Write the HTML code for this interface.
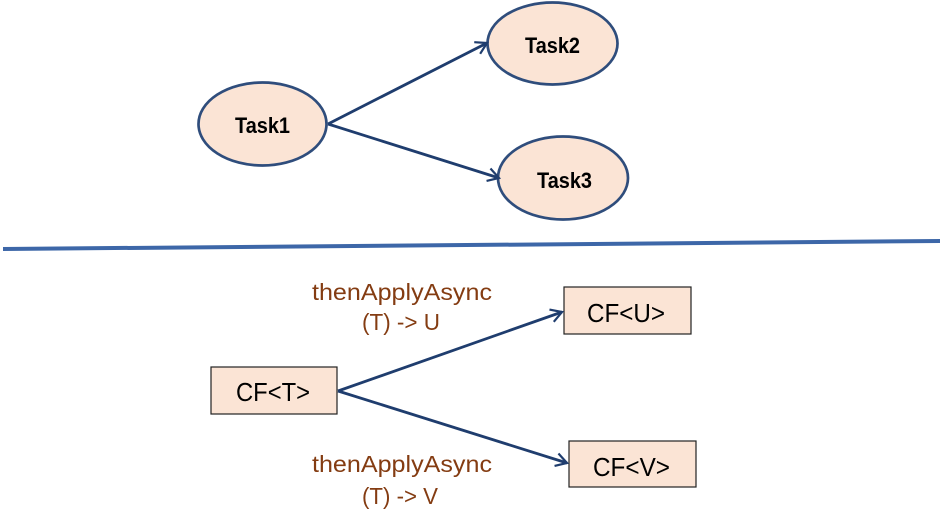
<!DOCTYPE html>
<html>
<head>
<meta charset="utf-8">
<style>
  html, body { margin: 0; padding: 0; background: #ffffff; }
  body { width: 940px; height: 518px; overflow: hidden; }
  svg { display: block; }
</style>
</head>
<body>
<svg width="940" height="518" viewBox="0 0 940 518" xmlns="http://www.w3.org/2000/svg">
  <defs>
    <marker id="arr" markerUnits="userSpaceOnUse" markerWidth="24" markerHeight="24" refX="12" refY="12" orient="auto" viewBox="0 0 24 24">
      <path d="M1 5.5 L12 12 L1 18.5" fill="none" stroke="#1f3d6e" stroke-width="2.2"/>
    </marker>
  </defs>

  <!-- Top: ellipses -->
  <g fill="#fbe4d5" stroke="#2f4d7c" stroke-width="2.7">
    <ellipse cx="262.5" cy="124" rx="64" ry="41.5"/>
    <ellipse cx="552.5" cy="43.5" rx="65" ry="41"/>
    <ellipse cx="563" cy="178" rx="65" ry="41.5"/>
  </g>

  <!-- Top arrows -->
  <g stroke="#1f3d6e" stroke-width="2.8" fill="none">
    <line x1="328" y1="124" x2="487" y2="43" marker-end="url(#arr)"/>
    <line x1="328" y1="124" x2="499" y2="178" marker-end="url(#arr)"/>
  </g>

  <g font-family="Liberation Sans, sans-serif" font-weight="bold" font-size="22" fill="#000" text-anchor="start">
    <text x="235" y="133" textLength="55" lengthAdjust="spacingAndGlyphs">Task1</text>
    <text x="525" y="53" textLength="55" lengthAdjust="spacingAndGlyphs">Task2</text>
    <text x="537" y="188" textLength="55" lengthAdjust="spacingAndGlyphs">Task3</text>
  </g>

  <!-- Divider -->
  <line x1="3" y1="249" x2="940" y2="241" stroke="#3d67a8" stroke-width="4"/>

  <!-- Bottom: boxes -->
  <g fill="#fbe4d5" stroke="#222" stroke-width="1.2">
    <rect x="211" y="367" width="126" height="47"/>
    <rect x="564" y="287" width="127" height="47"/>
    <rect x="569" y="441" width="127" height="46"/>
  </g>

  <!-- Bottom arrows -->
  <g stroke="#1f3d6e" stroke-width="2.8" fill="none">
    <line x1="338" y1="391" x2="562" y2="312" marker-end="url(#arr)"/>
    <line x1="338" y1="391" x2="567" y2="463" marker-end="url(#arr)"/>
  </g>

  <g font-family="Liberation Sans, sans-serif" font-size="26" fill="#000">
    <text x="236" y="401" textLength="74" lengthAdjust="spacingAndGlyphs">CF&lt;T&gt;</text>
    <text x="587" y="322" textLength="78" lengthAdjust="spacingAndGlyphs">CF&lt;U&gt;</text>
    <text x="593" y="476" textLength="77" lengthAdjust="spacingAndGlyphs">CF&lt;V&gt;</text>
  </g>

  <!-- Labels -->
  <g font-family="Liberation Sans, sans-serif" font-size="23" fill="#843c12">
    <text x="312" y="300" textLength="180" lengthAdjust="spacingAndGlyphs">thenApplyAsync</text>
    <text x="362" y="330" textLength="78" lengthAdjust="spacingAndGlyphs">(T) -&gt; U</text>
    <text x="312" y="472" textLength="180" lengthAdjust="spacingAndGlyphs">thenApplyAsync</text>
    <text x="362" y="504" textLength="76" lengthAdjust="spacingAndGlyphs">(T) -&gt; V</text>
  </g>
</svg>
</body>
</html>
